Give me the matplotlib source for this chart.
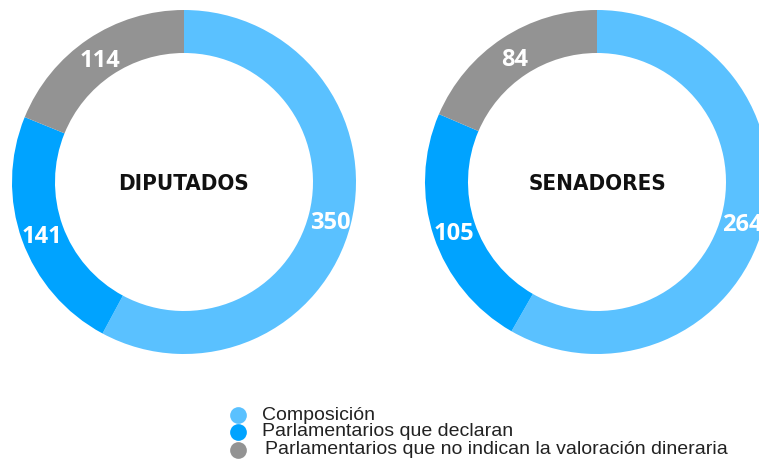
import matplotlib
matplotlib.use("Agg")
import matplotlib.pyplot as plt
from matplotlib import font_manager

categories = ["Composición", "Parlamentarios que declaran",
              "Parlamentarios que no indican la valoración dineraria"]
diputados = [350, 141, 114]
senadores = [264, 105, 84]
titles = ["DIPUTADOS", "SENADORES"]
colors = ["#5AC1FF", "#00A3FF", "#939393"]

fonts = [(f.name, f.stretch, f.fname) for f in font_manager.fontManager.ttflist]
narrow = [n for n, s, p in fonts if ("Narrow" in n or "Condensed" in n)]
cond_dejavu = any(("Condensed" in p and "DejaVu" in p) for n, s, p in fonts)
if "Liberation Sans Narrow" in narrow:
    title_family, title_stretch = "Liberation Sans Narrow", "normal"
elif cond_dejavu:
    title_family, title_stretch = "DejaVu Sans", "condensed"
else:
    title_family, title_stretch = "Roboto", "normal"

W, H = 759, 475
fig = plt.figure(figsize=(W / 100, H / 100), dpi=100)
ax = fig.add_axes([0, 0, 1, 1])

R = 172
width = 43
centers = [(184, H - 182), (597, H - 182)]

for vals, title, c in zip([diputados, senadores], titles, centers):
    total = sum(vals)
    wedges, texts, autotexts = ax.pie(
        vals, colors=colors, startangle=90, counterclock=False,
        center=c, radius=R, frame=True,
        wedgeprops=dict(width=width, linewidth=0),
        autopct=lambda p, t=total: f"{round(p * t / 100):d}",
        pctdistance=(R - width / 2) / R,
        textprops=dict(color="white", fontsize=17, fontweight="bold",
                       family=["Open Sans", "DejaVu Sans"]))
    for t in autotexts:
        x, y = t.get_position()
        t.set_position((x, y - 4))
    ax.text(c[0], c[1] - 2, title, ha="center", va="center",
            fontsize=16, fontweight="bold", fontstretch=title_stretch,
            family=[title_family, "DejaVu Sans"], color="#111111")

# legend
leg_y = [415, 432, 450]
leg_tx = [262, 262, 265]
for cat, col, y, tx in zip(categories, colors, leg_y, leg_tx):
    ax.scatter([238], [H - y], s=145, color=col, linewidths=0, clip_on=False)
    ax.text(tx, H - y, cat, ha="left", va="center", fontsize=14,
            family=["Liberation Sans", "DejaVu Sans"], color="#222222")

ax.set_xlim(0, W)
ax.set_ylim(0, H)
ax.set_aspect("auto")
ax.axis("off")
fig.savefig("out.png", dpi=100)
